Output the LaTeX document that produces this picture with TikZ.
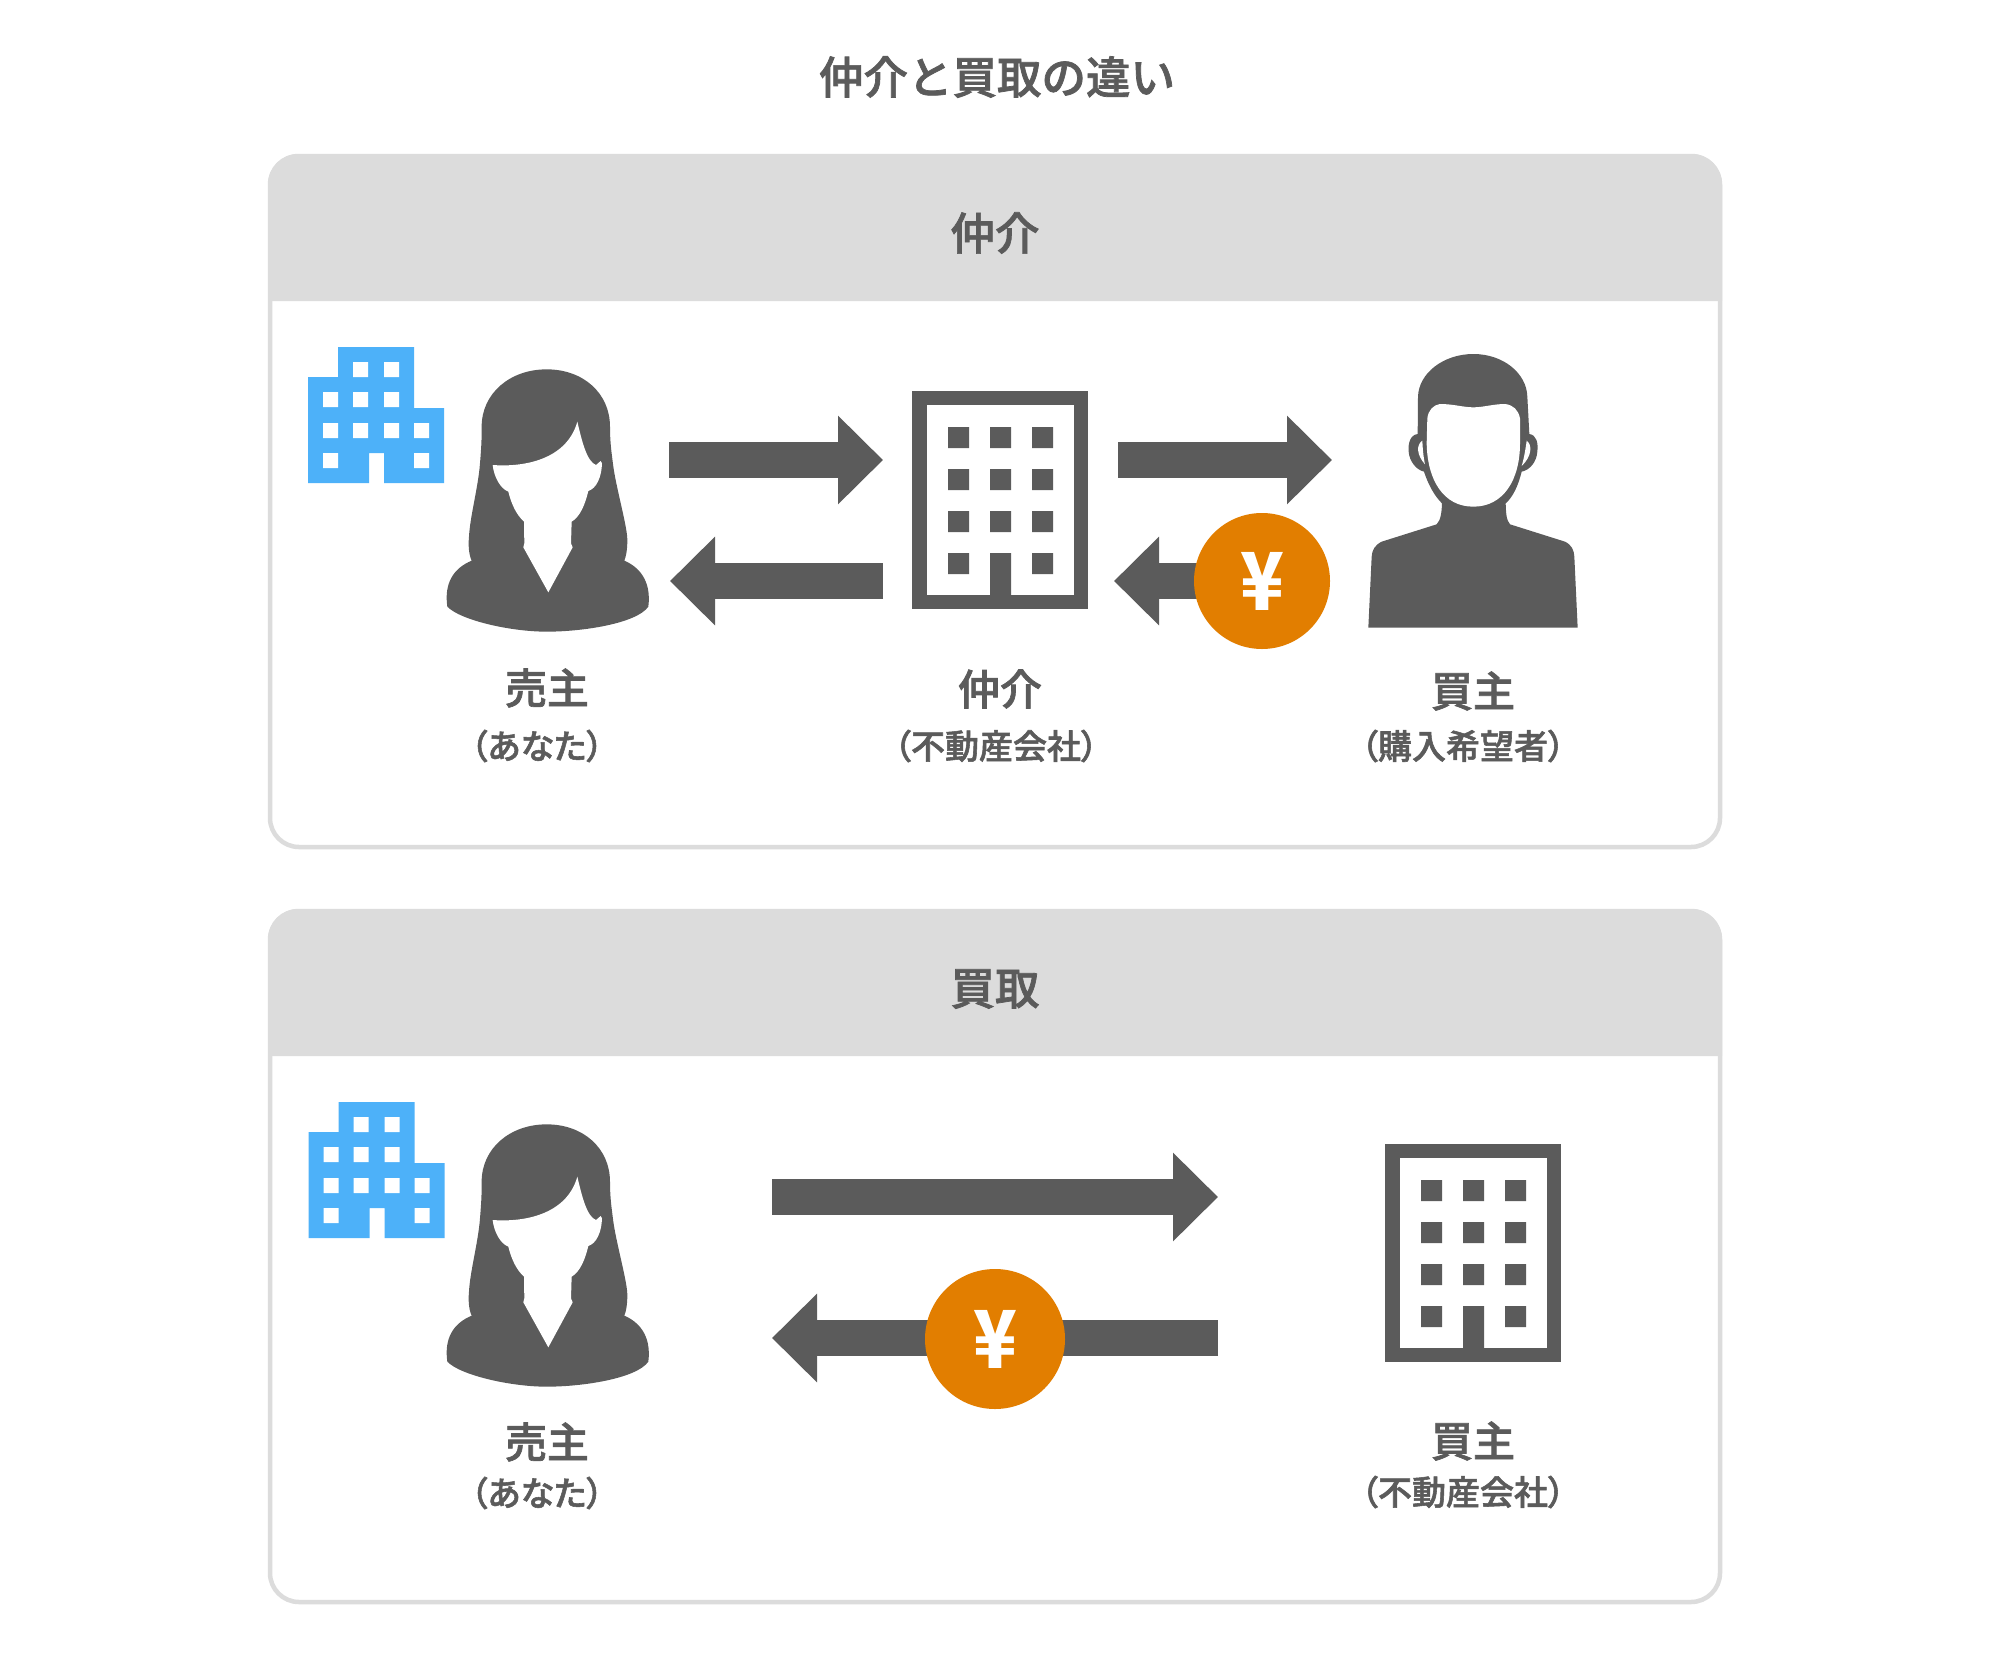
\documentclass[tikz,border=0pt]{standalone}
\usepackage{fontspec}
\setmainfont{Noto Sans CJK JP Medium}[FakeBold=1.6]
\newfontfamily\jpalt[RawFeature=+palt,FakeBold=1.6]{Noto Sans CJK JP Medium}
\newfontfamily\yenfont{Noto Sans CJK JP Black}
\usetikzlibrary{arrows.meta}
\definecolor{icongray}{HTML}{5B5B5B}
\definecolor{textgray}{HTML}{5B5B5B}
\definecolor{panelgray}{HTML}{DCDCDC}
\definecolor{yenorange}{HTML}{E27E00}
\definecolor{towerblue}{HTML}{4DB1F9}
\tikzset{
  titletext/.style={inner sep=0pt,text=textgray,font=\fontsize{44.5}{50}\selectfont},
  roletext/.style={inner sep=0pt,text=textgray,font=\fontsize{42}{48}\selectfont},
  subtext/.style={inner sep=0pt,text=textgray,font=\fontsize{34}{40}\selectfont\jpalt},
  yencoin/.style={circle,fill=yenorange,inner sep=0pt,text=white,font=\fontsize{80}{90}\selectfont\yenfont},
  flow/.style={draw=icongray,line width=36pt,-{Triangle[width=86pt,length=45pt,sep=0pt,fill=icongray]}},
  panelframe/.style={draw=panelgray,line width=4.5pt,rounded corners=29pt},
  pics/woman/.style={code={
    \fill[icongray] (770,118) .. controls (880,118) and (960,190) .. (960,290)
      .. controls (960,340) and (965,370) .. (970,410)
      .. controls (980,480) and (1012,590) .. (1012,630)
      .. controls (1012,660) and (1008,680) .. (1003,692)
      .. controls (1045,710) and (1085,750) .. (1075,830)
      .. controls (1040,880) and (880,905) .. (770,905)
      .. controls (660,905) and (510,870) .. (472,830)
      .. controls (462,760) and (490,715) .. (545,692)
      .. controls (535,670) and (535,640) .. (537,620)
      .. controls (540,560) and (565,470) .. (570,400)
      .. controls (575,340) and (575,320) .. (575,290)
      .. controls (575,190) and (660,118) .. (770,118) -- cycle;
    \fill[white] (608,405) .. controls (700,412) and (830,390) .. (862,275)
      .. controls (875,330) and (890,395) .. (918,405)
      -- (932,393) -- (936,400)
      .. controls (935,440) and (920,475) .. (895,483)
      .. controls (885,525) and (870,560) .. (845,575)
      -- (843,640) -- (848,652) -- (775,787) -- (700,652) -- (703,640) -- (702,575)
      .. controls (680,555) and (665,525) .. (655,485)
      .. controls (630,475) and (612,440) .. (608,405) -- cycle;
  }},
  pics/man/.style={code={
    \fill[icongray] (400,72) .. controls (490,72) and (560,130) .. (562,200) -- (568,312)
      .. controls (590,315) and (595,340) .. (592,365)
      .. controls (590,395) and (570,420) .. (545,425)
      .. controls (535,465) and (520,500) .. (497,520)
      .. controls (498,545) and (498,570) .. (510,583)
      -- (675,635) .. controls (695,645) and (702,660) .. (703,680)
      -- (713,893) -- (85,893) -- (95,680)
      .. controls (96,660) and (105,645) .. (125,635)
      -- (290,583) .. controls (303,570) and (305,545) .. (306,520)
      .. controls (285,500) and (265,465) .. (252,425)
      .. controls (230,420) and (208,395) .. (206,365)
      .. controls (204,340) and (210,315) .. (233,312)
      -- (234,200) .. controls (236,130) and (310,72) .. (400,72) -- cycle;
    \fill[white] (262,265) .. controls (265,240) and (280,225) .. (300,222)
      .. controls (340,222) and (370,232) .. (400,232)
      .. controls (430,232) and (460,222) .. (495,222)
      .. controls (520,225) and (535,240) .. (540,265) -- (540,340)
      .. controls (540,450) and (490,530) .. (400,530)
      .. controls (310,530) and (262,450) .. (260,340) -- cycle;
    \fill[white] (247,332) .. controls (228,345) and (230,375) .. (255,403)
      .. controls (250,380) and (248,355) .. (247,332) -- cycle;
    \fill[white] (560,332) .. controls (578,345) and (575,380) .. (545,408)
      .. controls (552,385) and (557,355) .. (560,332) -- cycle;
  }},
  pics/tower/.style={code={
    \fill[towerblue] (308,483) -- (308,377) -- (338,377) -- (338,347) -- (414,347)
      -- (414,408) -- (444,408) -- (444,483) -- (384,483) -- (384,453) -- (369,453) -- (369,483) -- cycle;
    \fill[white]
      (353,362) rectangle +(15,15) (384,362) rectangle +(15,15)
      (323,392) rectangle +(15,15) (353,392) rectangle +(15,15) (384,392) rectangle +(15,15)
      (323,423) rectangle +(15,15) (353,423) rectangle +(15,15) (384,423) rectangle +(15,15) (414,423) rectangle +(15,15)
      (323,453) rectangle +(15,15) (414,453) rectangle +(15,15);
  }},
  pics/office/.style={code={
    \fill[icongray] (912,391) rectangle (1088,609);
    \fill[white] (927,405) rectangle (1074,595);
    \fill[icongray]
      (948,427) rectangle +(21,21) (990,427) rectangle +(21,21) (1032,427) rectangle +(21,21)
      (948,469) rectangle +(21,21) (990,469) rectangle +(21,21) (1032,469) rectangle +(21,21)
      (948,511) rectangle +(21,21) (990,511) rectangle +(21,21) (1032,511) rectangle +(21,21)
      (948,553) rectangle +(21,21) (990,553) rectangle (1011,595) (1032,553) rectangle +(21,21);
  }},
}
\begin{document}
\begin{tikzpicture}[x=1pt,y=-1pt]
\fill[white] (0,0) rectangle (2000,1665);
\useasboundingbox (0,0) rectangle (2000,1665);

% panels
\fill[panelgray] (268,301) [rounded corners=30pt] -- (268,154) -- (1722,154) [sharp corners] -- (1722,301) -- cycle;
\path[panelframe] (270,156) rectangle (1720,847);
\fill[panelgray] (268,1056) [rounded corners=30pt] -- (268,909) -- (1722,909) [sharp corners] -- (1722,1056) -- cycle;
\path[panelframe] (270,911) rectangle (1720,1602);

% titles
\node[titletext] (title) at (997,77) {仲介と買取の違い};
\node[titletext] (headA) at (995,233) {仲介};
\node[titletext] (headB) at (995,989) {買取};

% icons, upper
\pic (towerA) at (0,0) {tower};
\pic[scale=1/3] (sellerA) at (290,330) {woman};
\pic (agent) at (0,0) {office};
\pic[scale=1/3] (buyerA) at (1340,330) {man};
% icons, lower
\pic (towerB) at (0.5,755) {tower};
\pic[scale=1/3] (sellerB) at (290,1085) {woman};
\pic (buyerB) at (473,753) {office};

% flow ends
\coordinate (a1s) at (669,460);  \coordinate (a1e) at (883,460);
\coordinate (a2s) at (883,581);  \coordinate (a2e) at (670,581);
\coordinate (a3s) at (1118,460); \coordinate (a3e) at (1332,460);
\coordinate (a4s) at (1262,581); \coordinate (a4e) at (1114,581);
\coordinate (b1s) at (772,1197); \coordinate (b1e) at (1218,1197);
\coordinate (b2s) at (1218,1338);\coordinate (b2e) at (772,1338);

\draw[flow] (a1s) -- (a1e);
\draw[flow] (a2s) -- (a2e);
\draw[flow] (a3s) -- (a3e);
\draw[flow] (a4s) -- (a4e);
\draw[flow] (b1s) -- (b1e);
\draw[flow] (b2s) -- (b2e);

\node[yencoin,minimum size=136pt] (coinA) at (a4s) {\scalebox{.9}[1]{¥}};
\node[yencoin,minimum size=140pt] (coinB) at (995,1339) {\scalebox{.9}[1]{¥}};

% labels
\node[roletext] (l1) at (547,688) {売主};
\node[subtext]  (s1) at (537,746) {（あなた）};
\node[roletext] (l2) at (1000,689) {仲介};
\node[subtext]  (s2) at (996,746) {（不動産会社）};
\node[roletext] (l3) at (1473,691) {買主};
\node[subtext]  (s3) at (1463,746) {（購入希望者）};
\node[roletext] (l4) at (547,1442) {売主};
\node[subtext]  (s4) at (537,1493) {（あなた）};
\node[roletext] (l5) at (1473,1441) {買主};
\node[subtext]  (s5) at (1463,1492) {（不動産会社）};
\end{tikzpicture}
\end{document}
